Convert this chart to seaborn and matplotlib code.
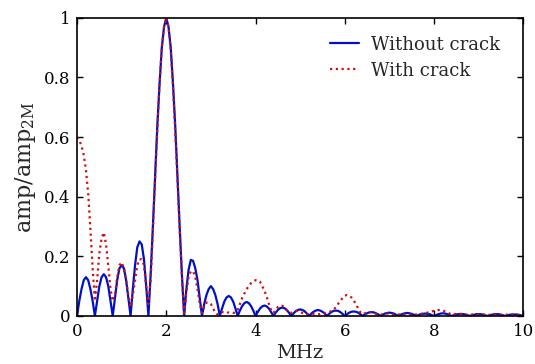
import numpy as np
import pandas as pd
import seaborn as sns
import matplotlib
matplotlib.use('Agg')
import matplotlib.pyplot as plt

sns.set_theme(style='ticks')
plt.rcParams['font.family'] = ['DejaVu Serif']
plt.rcParams['mathtext.default'] = 'regular'

# frequency grid (MHz), 0.05 step
freq = np.round(np.arange(201) * 0.05, 2)

# amplitude - without crack (blue)
without_crack = [
    0.00, 0.05, 0.09, 0.12, 0.13, 0.12, 0.09, 0.05,
    0.00, 0.05, 0.10, 0.13, 0.14, 0.13, 0.10, 0.05,
    0.00, 0.06, 0.12, 0.16, 0.17, 0.16, 0.12, 0.06,
    0.00, 0.09, 0.17, 0.23, 0.25, 0.24, 0.19, 0.10,
    0.00, 0.14, 0.30, 0.47, 0.64, 0.78, 0.90, 0.97,
    1.00, 0.97, 0.90, 0.78, 0.64, 0.47, 0.30, 0.14,
    0.00, 0.09, 0.155, 0.188, 0.185, 0.16, 0.12, 0.06,
    0.00, 0.04, 0.07, 0.09, 0.10, 0.09, 0.07, 0.04,
    0.00, 0.025, 0.048, 0.062, 0.067, 0.062, 0.048, 0.025,
    0.00, 0.018, 0.033, 0.043, 0.047, 0.043, 0.033, 0.018,
    0.00, 0.013, 0.025, 0.032, 0.035, 0.032, 0.025, 0.013,
    0.00, 0.011, 0.020, 0.026, 0.028, 0.026, 0.020, 0.011,
    0.00, 0.008, 0.016, 0.020, 0.022, 0.020, 0.016, 0.008,
    0.00, 0.008, 0.014, 0.018, 0.020, 0.018, 0.014, 0.008,
    0.00, 0.007, 0.013, 0.017, 0.018, 0.017, 0.013, 0.007,
    0.00, 0.006, 0.011, 0.014, 0.015, 0.014, 0.011, 0.006,
    0.00, 0.005, 0.009, 0.012, 0.013, 0.012, 0.009, 0.005,
    0.00, 0.004, 0.008, 0.010, 0.011, 0.010, 0.008, 0.004,
    0.00, 0.004, 0.007, 0.009, 0.010, 0.009, 0.007, 0.004,
    0.00, 0.003, 0.006, 0.007, 0.008, 0.007, 0.006, 0.003,
    0.00, 0.003, 0.006, 0.008, 0.009, 0.008, 0.006, 0.003,
    0.00, 0.003, 0.005, 0.006, 0.007, 0.006, 0.005, 0.003,
    0.00, 0.002, 0.004, 0.006, 0.006, 0.006, 0.004, 0.002,
    0.00, 0.002, 0.004, 0.006, 0.006, 0.006, 0.004, 0.002,
    0.00, 0.002, 0.004, 0.005, 0.005, 0.005, 0.004, 0.002,
    0.00,
]

# amplitude - with crack (red dotted)
with_crack = [
    0.60, 0.59, 0.57, 0.54, 0.49, 0.41, 0.29, 0.16,
    0.05, 0.12, 0.21, 0.26, 0.28, 0.24, 0.17, 0.09,
    0.05, 0.07, 0.13, 0.17, 0.18, 0.16, 0.12, 0.07,
    0.03, 0.07, 0.12, 0.17, 0.19, 0.19, 0.17, 0.10,
    0.04, 0.12, 0.29, 0.46, 0.63, 0.78, 0.90, 0.97,
    1.00, 0.97, 0.89, 0.77, 0.62, 0.46, 0.29, 0.13,
    0.01, 0.08, 0.13, 0.15, 0.15, 0.13, 0.09, 0.04,
    0.01, 0.03, 0.045, 0.045, 0.04, 0.025, 0.01, 0.005,
    0.01, 0.013, 0.012, 0.01, 0.012, 0.011, 0.01, 0.012,
    0.02, 0.04, 0.06, 0.075, 0.09, 0.10, 0.11, 0.115,
    0.12, 0.12, 0.115, 0.10, 0.085, 0.065, 0.04, 0.02,
    0.01, 0.02, 0.03, 0.035, 0.034, 0.03, 0.02, 0.012,
    0.01, 0.014, 0.017, 0.016, 0.013, 0.01, 0.008, 0.006,
    0.005, 0.006, 0.007, 0.007, 0.006, 0.006, 0.008, 0.01,
    0.012, 0.014, 0.016, 0.02, 0.03, 0.04, 0.05, 0.06,
    0.068, 0.07, 0.068, 0.062, 0.052, 0.04, 0.025, 0.012,
    0.006, 0.009, 0.012, 0.013, 0.012, 0.01, 0.007, 0.005,
    0.004, 0.006, 0.008, 0.008, 0.007, 0.005, 0.004, 0.004,
    0.005, 0.006, 0.006, 0.005, 0.004, 0.004, 0.005, 0.005,
    0.005, 0.006, 0.007, 0.008, 0.009, 0.011, 0.013, 0.015,
    0.017, 0.019, 0.02, 0.02, 0.018, 0.015, 0.012, 0.008,
    0.005, 0.006, 0.007, 0.007, 0.006, 0.005, 0.004, 0.004,
    0.004, 0.005, 0.005, 0.004, 0.004, 0.004, 0.005, 0.005,
    0.004, 0.004, 0.005, 0.005, 0.004, 0.003, 0.004, 0.005,
    0.005, 0.004, 0.003, 0.004, 0.004, 0.004, 0.003, 0.003,
    0.003,
]

labels = ['Without crack', 'With crack']

df = pd.DataFrame({'MHz': freq, labels[0]: without_crack, labels[1]: with_crack})

fig = plt.figure(figsize=(5.35, 3.64), dpi=100)
ax = fig.add_axes([0.144, 0.132, 0.834, 0.819])

sns.lineplot(data=df, x='MHz', y=labels[0], ax=ax, color='#0010c8',
             linewidth=1.6, label=labels[0])
sns.lineplot(data=df, x='MHz', y=labels[1], ax=ax, color='#d01010',
             linewidth=1.6, linestyle=(0, (1, 1.6)), label=labels[1])

ax.set_xlim(0, 10)
ax.set_ylim(0, 1)
ax.set_xticks([0, 2, 4, 6, 8, 10])
ax.set_yticks([0, 0.2, 0.4, 0.6, 0.8, 1])
ax.set_yticklabels(['0', '0.2', '0.4', '0.6', '0.8', '1'])
ax.tick_params(direction='in', top=True, right=True, length=4, width=1,
               labelsize=12, colors='black', pad=5)
for s in ax.spines.values():
    s.set_linewidth(1.2)
    s.set_color('black')

ax.set_xlabel('MHz', fontsize=14, labelpad=3)
ax.set_ylabel('amp/amp$_{2M}$', fontsize=16, labelpad=4)

leg = ax.legend(loc='upper right', frameon=False, fontsize=13,
                handlelength=1.6, handletextpad=0.7, borderaxespad=0.5,
                labelspacing=0.45, bbox_to_anchor=(0.985, 0.995))

fig.savefig('out.png', dpi=100)
